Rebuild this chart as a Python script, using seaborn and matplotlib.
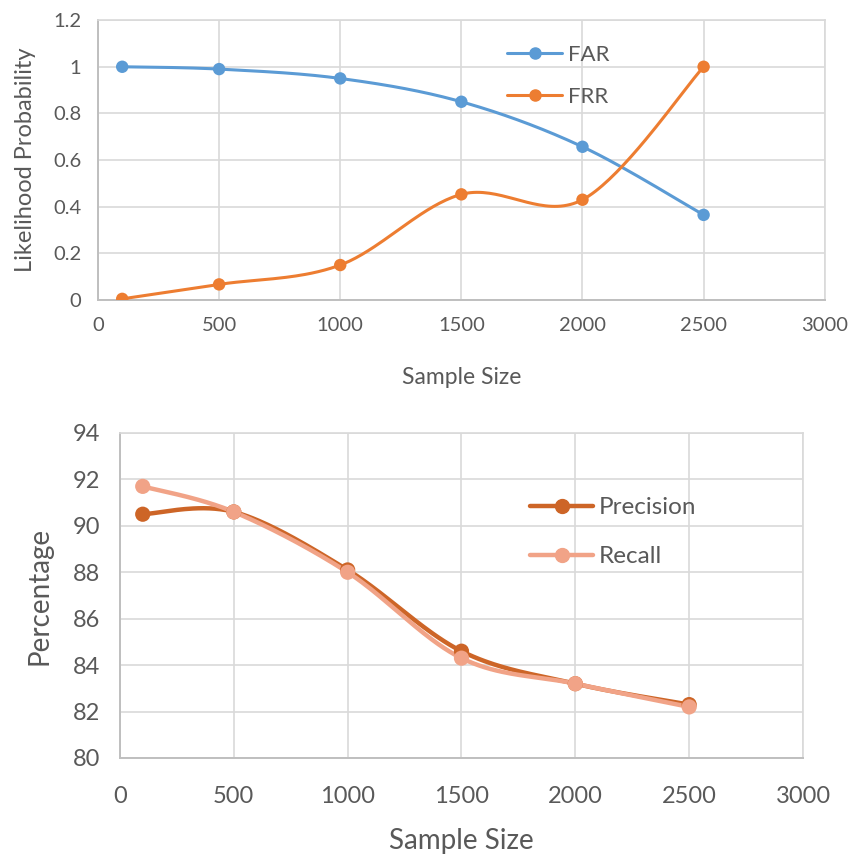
import numpy as np
import pandas as pd
import matplotlib
matplotlib.use("Agg")
import matplotlib.pyplot as plt
from matplotlib.lines import Line2D
import seaborn as sns

# Sample sizes shared by both panels
sample_size = [100, 500, 1000, 1500, 2000, 2500]

# Error rates
far = [1.0, 0.99, 0.95, 0.85, 0.657, 0.365]
frr = [0.005, 0.067, 0.15, 0.453, 0.43, 1.0]

# Retrieval quality (percent)
precision = [90.5, 90.6, 88.1, 84.6, 83.2, 82.3]
recall = [91.7, 90.6, 88.0, 84.3, 83.2, 82.2]

x_ticks = [0, 500, 1000, 1500, 2000, 2500, 3000]
top_y_ticks = [0, 0.2, 0.4, 0.6, 0.8, 1.0, 1.2]
top_y_labels = ["0", "0.2", "0.4", "0.6", "0.8", "1", "1.2"]
bot_y_ticks = [80, 82, 84, 86, 88, 90, 92, 94]

C_FAR = "#5B9BD5"
C_FRR = "#ED7D31"
C_PREC = "#CD6527"
C_REC = "#F1A387"
TXT = "#595959"
GRID = "#D9D9D9"

sns.set_theme(style="white")
plt.rcParams["font.family"] = ["Lato", "DejaVu Sans"]


def smooth_curve(xs, ys, n=40):
    """Cubic Bezier smoothing through the points (Catmull-Rom tangents)."""
    xs = np.asarray(xs, float)
    ys = np.asarray(ys, float)
    px, py = [], []
    for i in range(len(xs) - 1):
        i0 = max(i - 1, 0)
        i3 = min(i + 2, len(xs) - 1)
        p0 = np.array([xs[i0], ys[i0]])
        p1 = np.array([xs[i], ys[i]])
        p2 = np.array([xs[i + 1], ys[i + 1]])
        p3 = np.array([xs[i3], ys[i3]])
        c1 = p1 + (p2 - p0) / 6.0
        c2 = p2 - (p3 - p1) / 6.0
        t = np.linspace(0, 1, n)[:, None]
        seg = ((1 - t) ** 3) * p1 + 3 * ((1 - t) ** 2) * t * c1 + 3 * (1 - t) * t ** 2 * c2 + t ** 3 * p2
        if i > 0:
            seg = seg[1:]
        px.extend(seg[:, 0])
        py.extend(seg[:, 1])
    return pd.DataFrame({"x": px, "y": py})


def draw_series(ax, xs, ys, color, lw, ms):
    curve = smooth_curve(xs, ys)
    sns.lineplot(data=curve, x="x", y="y", ax=ax, color=color, lw=lw, sort=False,
                 estimator=None, zorder=3)
    pts = pd.DataFrame({"x": xs, "y": ys})
    sns.scatterplot(data=pts, x="x", y="y", ax=ax, color=color, s=ms, edgecolor="none",
                    zorder=4)


def style_axes(ax, yticks, ylabels, ylim, fs, xpad, ypad):
    ax.set_xlim(0, 3000)
    ax.set_ylim(*ylim)
    ax.set_xticks(x_ticks)
    ax.set_yticks(yticks)
    ax.set_xticklabels([str(v) for v in x_ticks])
    ax.set_yticklabels(ylabels)
    ax.tick_params(axis="both", colors=TXT, labelsize=fs, length=0)
    ax.tick_params(axis="x", pad=xpad)
    ax.tick_params(axis="y", pad=ypad)
    ax.grid(True, color=GRID, lw=1.2)
    for side in ["top", "right"]:
        ax.spines[side].set_color(GRID)
        ax.spines[side].set_linewidth(1.2)
    for side in ["left", "bottom"]:
        ax.spines[side].set_color("#BFBFBF")
        ax.spines[side].set_linewidth(1.4)


fig = plt.figure(figsize=(8.52, 8.56), dpi=100)
ax1 = fig.add_axes([0.115, 0.6495, 0.853, 0.327])
ax2 = fig.add_axes([0.1408, 0.1145, 0.8017, 0.3797])

# Top panel: FAR / FRR
draw_series(ax1, sample_size, far, C_FAR, 2.2, 80)
draw_series(ax1, sample_size, frr, C_FRR, 2.2, 80)
style_axes(ax1, top_y_ticks, top_y_labels, (0, 1.2), 14.5, 12, 12)
ax1.set_xlabel("Sample Size", color=TXT, fontsize=16.5, labelpad=24)
ax1.set_ylabel("Likelihood Probability", color=TXT, fontsize=17, labelpad=12)
h1 = [Line2D([], [], color=C_FAR, lw=2.2, marker="o", ms=8),
      Line2D([], [], color=C_FRR, lw=2.2, marker="o", ms=8)]
ax1.legend(h1, ["FAR", "FRR"], loc="upper left", bbox_to_anchor=(0.595, 0.948),
           bbox_transform=fig.transFigure, borderpad=0, borderaxespad=0,
           frameon=False, fontsize=16, labelcolor=TXT, handlelength=2.5,
           handletextpad=0.27, labelspacing=1.0)

# Bottom panel: Precision / Recall
draw_series(ax2, sample_size, precision, C_PREC, 3.2, 120)
draw_series(ax2, sample_size, recall, C_REC, 3.2, 120)
style_axes(ax2, bot_y_ticks, [str(v) for v in bot_y_ticks], (80, 94), 17, 20, 14)
ax2.set_xlabel("Sample Size", color=TXT, fontsize=20, labelpad=15)
ax2.set_ylabel("Percentage", color=TXT, fontsize=20, labelpad=15)
h2 = [Line2D([], [], color=C_PREC, lw=3.2, marker="o", ms=10),
      Line2D([], [], color=C_REC, lw=3.2, marker="o", ms=10)]
ax2.legend(h2, ["Precision", "Recall"], loc="upper left", bbox_to_anchor=(0.622, 0.419),
           bbox_transform=fig.transFigure, borderpad=0, borderaxespad=0,
           frameon=False, fontsize=17.5, labelcolor=TXT, handlelength=2.6,
           handletextpad=0.25, labelspacing=1.15)

fig.savefig("out.png", dpi=100, facecolor="white")
